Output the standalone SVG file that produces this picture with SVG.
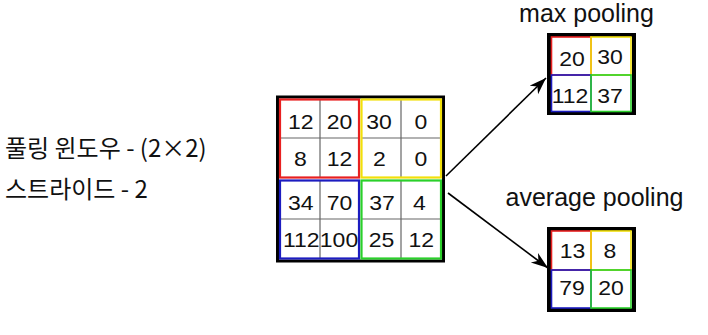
<svg xmlns="http://www.w3.org/2000/svg" width="708" height="335" viewBox="0 0 708 335">
<style>
.num{font-family:"Liberation Sans",Arial,sans-serif;font-size:20px;fill:#111;text-anchor:middle}
.lbl{font-family:"Liberation Sans",Arial,sans-serif;font-size:25px;fill:#111;text-anchor:middle}
.kr{font-family:"Noto Sans CJK KR","Noto Sans",sans-serif;font-size:24px;fill:#111}
.outer{fill:none;stroke:#000}
.r{fill:none;stroke:#e82020}
.y{fill:none;stroke:#f2e00a}
.b{fill:none;stroke:#1c1cc0}
.g{fill:none;stroke:#2ad02a}
.grid{stroke:#666;stroke-width:1.2}
.conn{stroke:#000;stroke-width:1.6;fill:none;marker-end:url(#ah)}
</style>
<defs>
<marker id="ah" markerUnits="userSpaceOnUse" markerWidth="18" markerHeight="13" refX="17" refY="6" orient="auto">
<path d="M0,0 L17,6 L0,12 L5,6 z" fill="#000"/>
</marker>
</defs>
<rect width="708" height="335" fill="#fff"/>

<g id="labels-left">
<text class="kr" x="5" y="157">풀링 윈도우 - (2×2)</text>
<text class="kr" x="5" y="198">스트라이드 - 2</text>
</g>

<g id="input-grid">
<rect class="outer" x="277.5" y="97" width="166" height="164" stroke-width="3"/>
<line class="grid" x1="320" y1="100" x2="320" y2="177"/>
<line class="grid" x1="401" y1="100" x2="401" y2="177"/>
<line class="grid" x1="320" y1="181" x2="320" y2="258"/>
<line class="grid" x1="401" y1="181" x2="401" y2="258"/>
<line class="grid" x1="280" y1="138" x2="359" y2="138"/>
<line class="grid" x1="362" y1="138" x2="441" y2="138"/>
<line class="grid" x1="280" y1="219" x2="359" y2="219"/>
<line class="grid" x1="362" y1="219" x2="441" y2="219"/>
<rect class="r" x="280" y="99.5" width="79" height="78" stroke-width="2.2"/>
<rect class="y" x="361.5" y="99.5" width="79.5" height="78" stroke-width="2.2"/>
<rect class="b" x="280" y="180.5" width="79" height="78" stroke-width="2.2"/>
<rect class="g" x="361.5" y="180.5" width="79.5" height="78" stroke-width="2.2"/>
<text class="num" transform="translate(300.8,128.5) scale(1.15,1)">12</text>
<text class="num" transform="translate(339.5,128.5) scale(1.15,1)">20</text>
<text class="num" transform="translate(379,128.5) scale(1.15,1)">30</text>
<text class="num" transform="translate(420.8,128.5) scale(1.15,1)">0</text>
<text class="num" transform="translate(300.5,166) scale(1.15,1)">8</text>
<text class="num" transform="translate(339.5,166) scale(1.15,1)">12</text>
<text class="num" transform="translate(379.5,166) scale(1.15,1)">2</text>
<text class="num" transform="translate(420.8,166) scale(1.15,1)">0</text>
<text class="num" transform="translate(300.8,210) scale(1.15,1)">34</text>
<text class="num" transform="translate(339.5,210) scale(1.15,1)">70</text>
<text class="num" transform="translate(382,210) scale(1.15,1)">37</text>
<text class="num" transform="translate(419.5,210) scale(1.15,1)">4</text>
<text class="num" transform="translate(301.3,247) scale(1.15,1)">112</text>
<text class="num" transform="translate(339,247) scale(1.15,1)">100</text>
<text class="num" transform="translate(381.5,247) scale(1.15,1)">25</text>
<text class="num" transform="translate(421.3,247) scale(1.15,1)">12</text>
</g>

<g id="max-pooling">
<text class="lbl" x="586.5" y="22">max pooling</text>
<rect class="outer" x="549" y="35" width="85" height="78" stroke-width="4"/>
<rect class="r" x="551.5" y="37" width="39.5" height="38" stroke-width="1.6"/>
<rect class="y" x="591" y="37" width="40" height="38" stroke-width="1.6"/>
<rect class="b" x="551.5" y="75" width="39.5" height="36.5" stroke-width="1.6"/>
<rect class="g" x="591" y="75" width="40" height="36.5" stroke-width="1.6"/>
<text class="num" transform="translate(572,66) scale(1.15,1)">20</text>
<text class="num" transform="translate(610,63.5) scale(1.15,1)">30</text>
<text class="num" transform="translate(570,103) scale(1.15,1)">112</text>
<text class="num" transform="translate(610,103) scale(1.15,1)">37</text>
</g>

<g id="average-pooling">
<text class="lbl" x="594.5" y="206">average pooling</text>
<rect class="outer" x="549" y="229" width="85" height="81" stroke-width="4"/>
<rect class="r" x="551.5" y="231" width="39.5" height="39" stroke-width="1.6"/>
<rect class="y" x="591" y="231" width="40" height="39" stroke-width="1.6"/>
<rect class="b" x="551.5" y="270" width="39.5" height="38" stroke-width="1.6"/>
<rect class="g" x="591" y="270" width="40" height="38" stroke-width="1.6"/>
<text class="num" transform="translate(572.5,258) scale(1.15,1)">13</text>
<text class="num" transform="translate(610,258) scale(1.15,1)">8</text>
<text class="num" transform="translate(572,295) scale(1.15,1)">79</text>
<text class="num" transform="translate(611,295) scale(1.15,1)">20</text>
</g>

<g id="connectors">
<line class="conn" x1="446" y1="176" x2="546" y2="78"/>
<line class="conn" x1="448" y1="193" x2="548" y2="268"/>
</g>
</svg>
